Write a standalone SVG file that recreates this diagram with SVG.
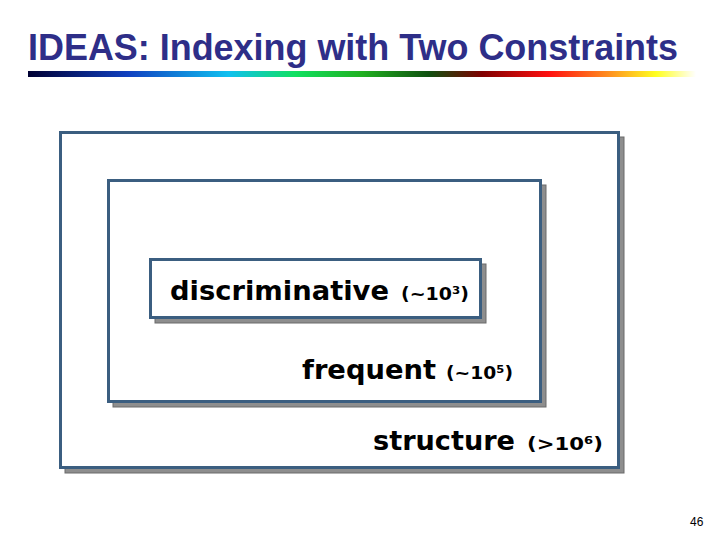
<svg xmlns="http://www.w3.org/2000/svg" width="720" height="540" viewBox="0 0 720 540">
<defs>
<linearGradient id="bar" x1="0" y1="0" x2="1" y2="0">
<stop offset="0" stop-color="#000033"/>
<stop offset="0.15" stop-color="#1040c0"/>
<stop offset="0.3" stop-color="#10c0f0"/>
<stop offset="0.4" stop-color="#10e060"/>
<stop offset="0.5" stop-color="#20b020"/>
<stop offset="0.6" stop-color="#105010"/>
<stop offset="0.68" stop-color="#800000"/>
<stop offset="0.78" stop-color="#ff1010"/>
<stop offset="0.87" stop-color="#ff9020"/>
<stop offset="0.94" stop-color="#ffff20"/>
<stop offset="1" stop-color="#ffffff"/>
</linearGradient>
</defs>
<style>
.title{font-family:"Liberation Sans",Arial,sans-serif;font-weight:bold;font-size:36px;fill:#2E2E88}
.shadow{fill:#8e8e8e;stroke:#6a6a6a;stroke-width:1}
.box{fill:#ffffff;stroke:#3B5E80;stroke-width:3}
.lbl{font-family:"DejaVu Sans",Verdana,sans-serif;font-weight:bold;font-size:26px;fill:#000}
.small{font-family:"DejaVu Sans",Verdana,sans-serif;font-weight:bold;font-size:18px;fill:#000}
.num{font-family:"Liberation Sans",Arial,sans-serif;font-size:12px;fill:#000}
</style>
<rect width="720" height="540" fill="#ffffff"/>
<text class="title" x="28" y="60" textLength="650" lengthAdjust="spacingAndGlyphs">IDEAS: Indexing with Two Constraints</text>
<rect x="28" y="71" width="668" height="6" fill="url(#bar)"/>
<g id="structure">
<rect class="shadow" x="65" y="137" width="559" height="336"/>
<rect class="box" x="60.5" y="132.5" width="558" height="335"/>
<text class="lbl" x="373" y="450" textLength="142" lengthAdjust="spacingAndGlyphs">structure</text>
<text class="small" x="527" y="450" textLength="76" lengthAdjust="spacingAndGlyphs">(&gt;10⁶)</text>
</g>
<g id="frequent">
<rect class="shadow" x="113" y="185" width="433" height="222"/>
<rect class="box" x="108.5" y="180.5" width="432" height="221"/>
<text class="lbl" x="302" y="379" textLength="134" lengthAdjust="spacingAndGlyphs">frequent</text>
<text class="small" x="446" y="379" textLength="67" lengthAdjust="spacingAndGlyphs">(~10⁵)</text>
</g>
<g id="discriminative">
<rect class="shadow" x="155" y="264" width="331" height="59"/>
<rect class="box" x="150.5" y="259.5" width="330" height="58"/>
<text class="lbl" x="170" y="300" textLength="219" lengthAdjust="spacingAndGlyphs">discriminative</text>
<text class="small" x="401" y="300" textLength="68" lengthAdjust="spacingAndGlyphs">(~10³)</text>
</g>
<g id="connectors"/>
<text class="num" x="690" y="526">46</text>
</svg>
